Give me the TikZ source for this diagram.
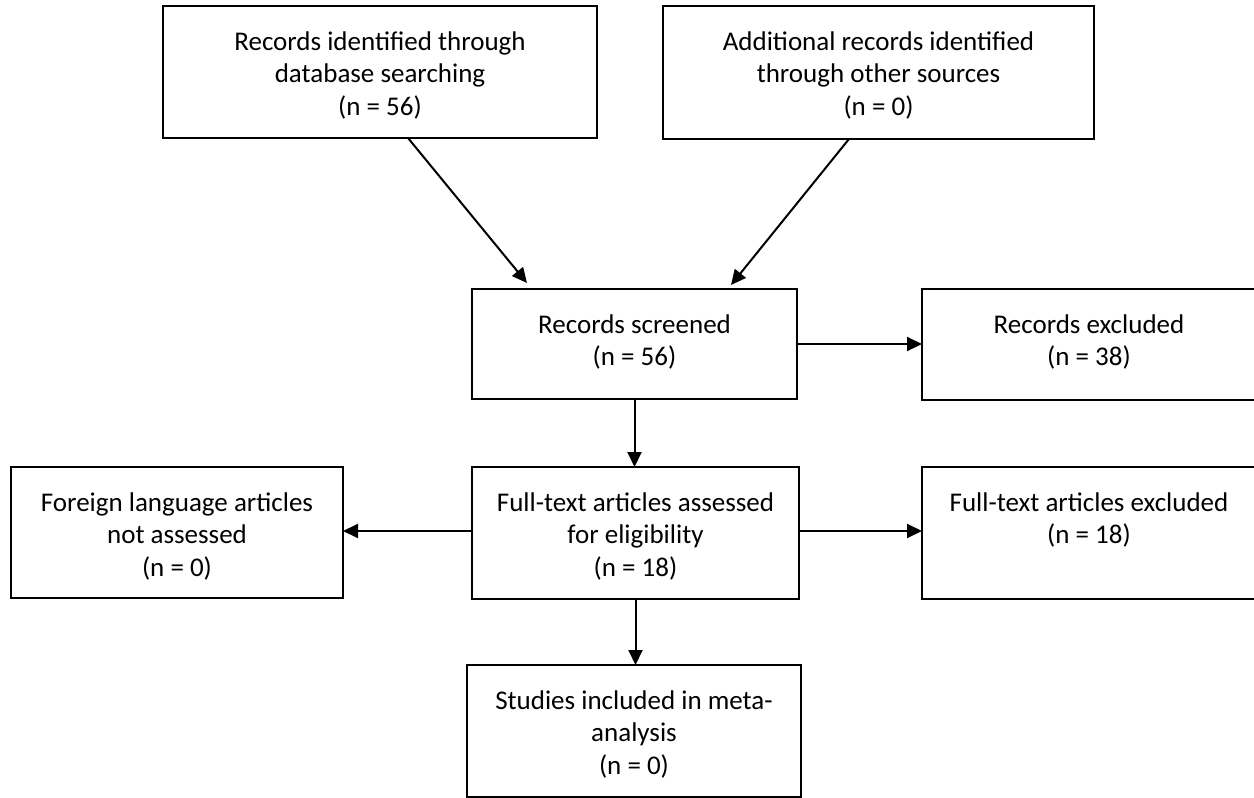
\documentclass[tikz,border=0pt]{standalone}
\usepackage{fontspec}
\setmainfont{Carlito}
\usetikzlibrary{arrows.meta,calc}
\newcommand{\flowtxt}[3]{\begin{minipage}[t][#2][t]{#1}\centering\fontsize{27}{32.5}\selectfont\rule{0pt}{44pt}#3\end{minipage}}
\tikzset{
  flowbox/.style={draw=black, line width=1.6pt, inner sep=0pt, outer sep=0pt, anchor=north west, fill=white},
  arr/.style={-{Triangle[length=15pt,width=14pt]}, line width=2pt, draw=black}
}
\begin{document}
\begin{tikzpicture}[x=1pt,y=-1pt]
\useasboundingbox (0,0) rectangle (1254,798);
\clip (0,0) rectangle (1254,798);
\node[flowbox] (A) at (163,6) {\flowtxt{434pt}{132pt}{Records identified through\\database searching\\(n = 56)}};
\node[flowbox] (B) at (663,6) {\flowtxt{431pt}{133pt}{Additional records identified\\through other sources\\(n = 0)}};
\node[flowbox] (C) at (472,289) {\flowtxt{325pt}{110pt}{Records screened\\(n = 56)}};
\node[flowbox] (D) at (922,289) {\flowtxt{334pt}{111pt}{Records excluded\\(n = 38)}};
\node[flowbox] (F) at (472,467) {\flowtxt{327pt}{132pt}{Full-text articles assessed\\for eligibility\\(n = 18)}};
\node[flowbox] (G) at (11,467) {\flowtxt{332pt}{131pt}{Foreign language articles\\not assessed\\(n = 0)}};
\node[flowbox] (E) at (922,467) {\flowtxt{334pt}{132pt}{Full-text articles excluded\\(n = 18)}};
\node[flowbox] (H) at (467,665) {\flowtxt{334pt}{132pt}{Studies included in meta-\\analysis\\(n = 0)}};
\coordinate (a1) at ($(A.south west)+(245,0)$);
\coordinate (a2) at ($(C.north west)+(55,-6)$);
\coordinate (b1) at ($(B.south west)+(186,0)$);
\coordinate (b2) at ($(C.north west)+(259,-4)$);
\coordinate (fl) at ($(F.north west)+(0,64)$);
\coordinate (fr) at ($(F.north east)+(0,64)$);
\draw[arr] (a1) -- (a2);
\draw[arr] (b1) -- (b2);
\draw[arr] (C.east) -- (C.east -| D.west);
\draw[arr] (C.south) -- (C.south |- F.north);
\draw[arr] (fl) -- (fl -| G.east);
\draw[arr] (fr) -- (fr -| E.west);
\draw[arr] (F.south) -- (F.south |- H.north);
\end{tikzpicture}
\end{document}
